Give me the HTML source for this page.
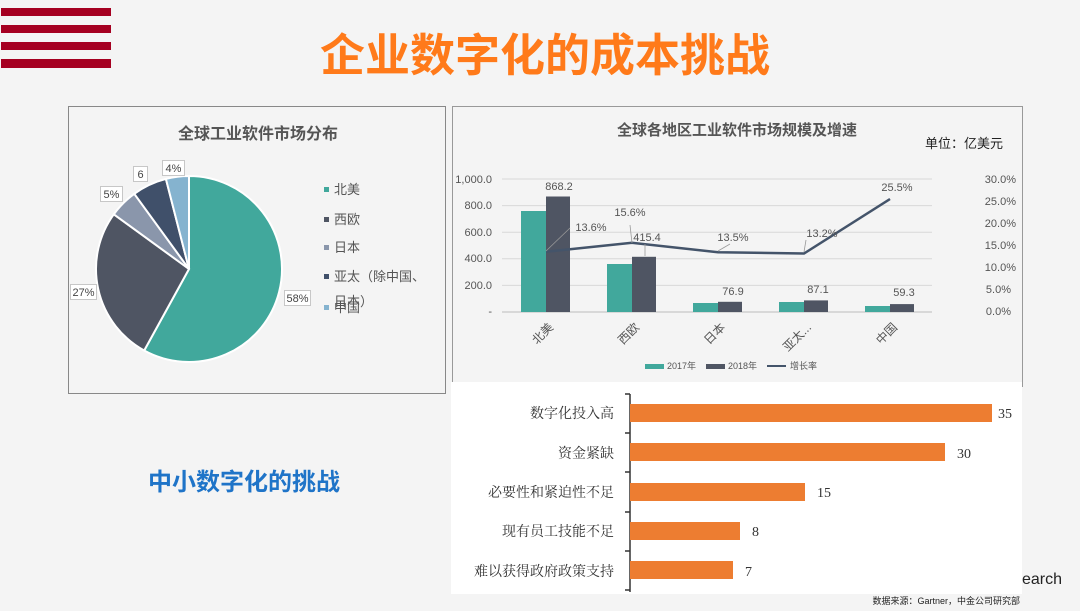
<!DOCTYPE html>
<html><head><meta charset="utf-8"><style>
body{margin:0;width:1080px;height:606px;background:#f4f4f4;overflow:hidden;font-family:"Liberation Sans","Noto Sans CJK SC",sans-serif;}
</style></head><body>
<svg width="1080" height="606" viewBox="0 0 1080 606" xmlns="http://www.w3.org/2000/svg" font-family="Liberation Sans, Noto Sans CJK SC, sans-serif">
<rect width="1080" height="606" fill="#f4f4f4"/>
<g fill="#a50021"><rect x="1" y="8" width="110" height="8"/><rect x="1" y="25" width="110" height="8"/><rect x="1" y="42" width="110" height="8"/><rect x="1" y="59" width="110" height="9"/></g>
<text x="545" y="71" text-anchor="middle" font-size="45" font-weight="bold" fill="#ff7a1a">企业数字化的成本挑战</text>
<!-- left panel -->
<rect x="68.5" y="106.5" width="377" height="287" fill="#f4f4f4" stroke="#888"/>
<text x="258" y="139" text-anchor="middle" font-size="16" font-weight="bold" fill="#555">全球工业软件市场分布</text>
<g stroke="#fff" stroke-width="2">
<path d="M189 269 L189 176 A93 93 0 1 1 144.2 350.5 Z" fill="#41a89c"/>
<path d="M189 269 L144.2 350.5 A93 93 0 0 1 113.8 214.3 Z" fill="#4f5563"/>
<path d="M189 269 L113.8 214.3 A93 93 0 0 1 134.3 193.8 Z" fill="#8a96ab"/>
<path d="M189 269 L134.3 193.8 A93 93 0 0 1 165.9 178.9 Z" fill="#40506a"/>
<path d="M189 269 L165.9 178.9 A93 93 0 0 1 189 176 Z" fill="#85b3cf"/>
</g>
<g font-size="11" fill="#444" stroke-width="0.8">
<rect x="284.5" y="290.5" width="26" height="15" fill="#fff" stroke="#bbb"/><text x="297.5" y="302" text-anchor="middle">58%</text>
<rect x="70.5" y="284.5" width="26" height="15" fill="#fff" stroke="#bbb"/><text x="83.5" y="296" text-anchor="middle">27%</text>
<rect x="100.5" y="186.5" width="22" height="15" fill="#fff" stroke="#bbb"/><text x="111.5" y="198" text-anchor="middle">5%</text>
<rect x="133.5" y="166.5" width="14" height="15" fill="#fff" stroke="#bbb"/><text x="140.5" y="178" text-anchor="middle">6</text>
<rect x="162.5" y="160.5" width="22" height="15" fill="#fff" stroke="#bbb"/><text x="173.5" y="172" text-anchor="middle">4%</text>
</g>
<g font-size="13" fill="#555">
<rect x="324" y="187" width="5" height="5" fill="#41a89c"/><text x="334" y="194">北美</text>
<rect x="324" y="217" width="5" height="5" fill="#4f5563"/><text x="334" y="224">西欧</text>
<rect x="324" y="245" width="5" height="5" fill="#8a96ab"/><text x="334" y="252">日本</text>
<rect x="324" y="274" width="5" height="5" fill="#40506a"/><text x="334" y="281">亚太（除中国、</text>
<text x="334" y="306">日本）</text>
<rect x="324" y="305" width="5" height="5" fill="#85b3cf"/><text x="334" y="312">中国</text>
</g>
<text x="244" y="490" text-anchor="middle" font-size="24" font-weight="bold" fill="#1f74c8">中小数字化的挑战</text>
<!-- right panel -->
<rect x="452.5" y="106.5" width="570" height="280" fill="#f4f4f4" stroke="#999"/>
<text x="737" y="135" text-anchor="middle" font-size="15" font-weight="bold" fill="#555">全球各地区工业软件市场规模及增速</text>
<text x="1003" y="148" text-anchor="end" font-size="13" fill="#222">单位：亿美元</text>
<g stroke="#d8d8d8"><line x1="502" y1="179" x2="932" y2="179"/><line x1="502" y1="205.6" x2="932" y2="205.6"/><line x1="502" y1="232.2" x2="932" y2="232.2"/><line x1="502" y1="258.8" x2="932" y2="258.8"/><line x1="502" y1="285.4" x2="932" y2="285.4"/></g>
<line x1="502" y1="312" x2="932" y2="312" stroke="#bbb"/>
<g font-size="11" fill="#555" text-anchor="end">
<text x="492" y="183">1,000.0</text><text x="492" y="209">800.0</text><text x="492" y="236">600.0</text><text x="492" y="262">400.0</text><text x="492" y="289">200.0</text><text x="492" y="315">-</text>
</g>
<g font-size="11" fill="#555" text-anchor="end">
<text x="1016" y="183">30.0%</text><text x="1016" y="205">25.0%</text><text x="1016" y="227">20.0%</text><text x="1016" y="249">15.0%</text><text x="1016" y="271">10.0%</text><text x="1011" y="293">5.0%</text><text x="1011" y="315">0.0%</text>
</g>
<g fill="#41a89c"><rect x="521" y="211" width="25" height="101"/><rect x="607" y="264" width="25" height="48"/><rect x="693" y="303" width="25" height="9"/><rect x="779" y="302" width="25" height="10"/><rect x="865" y="306" width="25" height="6"/></g>
<g fill="#4f5563"><rect x="546" y="196.5" width="24" height="115.5"/><rect x="632" y="256.8" width="24" height="55.2"/><rect x="718" y="301.8" width="24" height="10.2"/><rect x="804" y="300.4" width="24" height="11.6"/><rect x="890" y="304.1" width="24" height="7.9"/></g>
<polyline points="546,251.7 632,242.8 718,252.2 804,253.5 890,199" fill="none" stroke="#44546a" stroke-width="2.5"/>
<g stroke="#999" stroke-width="0.8"><line x1="546" y1="251" x2="570" y2="228"/><line x1="632" y1="243" x2="630" y2="225"/><line x1="718" y1="251" x2="730" y2="244"/><line x1="804" y1="252" x2="806" y2="240"/><line x1="645" y1="244" x2="645" y2="256"/></g>
<g font-size="11" fill="#555" text-anchor="middle">
<text x="559" y="190">868.2</text><text x="591" y="231">13.6%</text><text x="630" y="216">15.6%</text><text x="647" y="241">415.4</text>
<text x="733" y="241">13.5%</text><text x="822" y="237">13.2%</text><text x="733" y="295">76.9</text><text x="818" y="293">87.1</text>
<text x="904" y="296">59.3</text><text x="897" y="191">25.5%</text>
</g>
<g font-size="12" fill="#555" text-anchor="end">
<text transform="translate(554,328) rotate(-45)">北美</text>
<text transform="translate(640,328) rotate(-45)">西欧</text>
<text transform="translate(726,328) rotate(-45)">日本</text>
<text transform="translate(812,328) rotate(-45)">亚太...</text>
<text transform="translate(898,328) rotate(-45)">中国</text>
</g>
<g font-size="9" fill="#555">
<rect x="645" y="364" width="19" height="5" fill="#41a89c"/><text x="667" y="369">2017年</text>
<rect x="706" y="364" width="19" height="5" fill="#4f5563"/><text x="728" y="369">2018年</text>
<line x1="767" y1="366" x2="786" y2="366" stroke="#44546a" stroke-width="2"/><text x="790" y="369">增长率</text>
</g>
<!-- bottom bar chart -->
<rect x="451" y="382" width="571" height="212" fill="#fff"/>
<line x1="630" y1="394" x2="630" y2="592" stroke="#333" stroke-width="1.5"/>
<g stroke="#333" stroke-width="1.5"><line x1="625" y1="394" x2="630" y2="394"/><line x1="625" y1="433" x2="630" y2="433"/><line x1="625" y1="472" x2="630" y2="472"/><line x1="625" y1="512" x2="630" y2="512"/><line x1="625" y1="551" x2="630" y2="551"/><line x1="625" y1="590" x2="630" y2="590"/></g>
<g fill="#ed7d31"><rect x="630" y="404" width="362" height="18"/><rect x="630" y="443" width="315" height="18"/><rect x="630" y="483" width="175" height="18"/><rect x="630" y="522" width="110" height="18"/><rect x="630" y="561" width="103" height="18"/></g>
<g font-size="14" fill="#333" font-family="Liberation Serif, Noto Serif CJK SC, serif">
<text x="998" y="418">35</text><text x="957" y="458">30</text><text x="817" y="497">15</text><text x="752" y="536">8</text><text x="745" y="576">7</text>
</g>
<g font-size="14" fill="#333" text-anchor="end" font-family="Liberation Serif, Noto Serif CJK SC, serif">
<text x="614" y="418">数字化投入高</text><text x="614" y="458">资金紧缺</text><text x="614" y="497">必要性和紧迫性不足</text><text x="614" y="536">现有员工技能不足</text><text x="614" y="576">难以获得政府政策支持</text>
</g>
<text x="1022" y="584" font-size="16" fill="#222">earch</text>
<text x="1020" y="604" font-size="9" fill="#222" text-anchor="end">数据来源：Gartner，中金公司研究部</text>
</svg>
</body></html>
